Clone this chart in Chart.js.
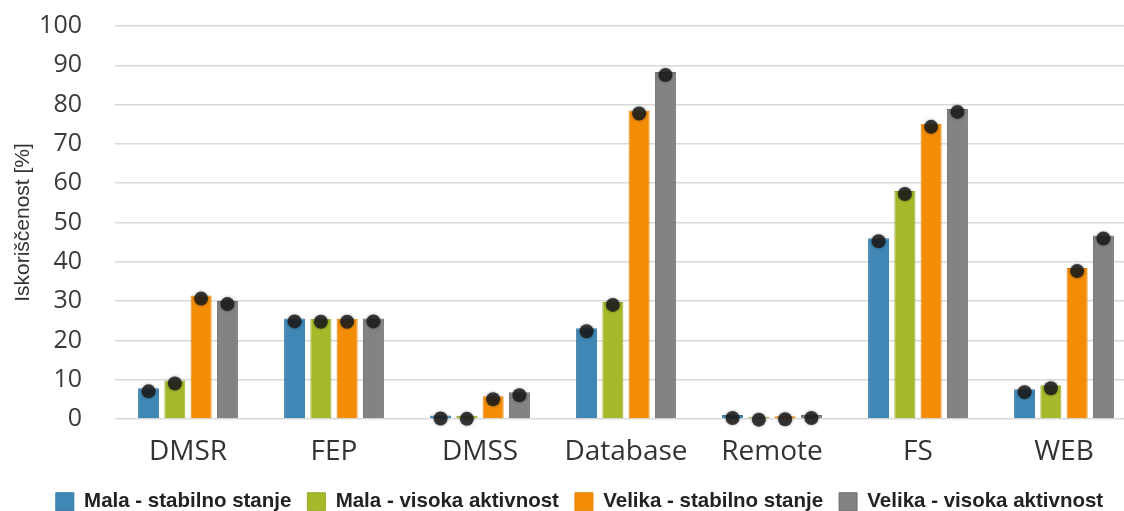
<!DOCTYPE html>
<html>
<head>
<meta charset="utf-8">
<script src="https://cdn.jsdelivr.net/npm/chart.js@4/dist/chart.umd.min.js"></script>
<style>
  html, body { margin: 0; padding: 0; background: #ffffff; overflow: hidden; width: 1124px; height: 511px; }
  #wrap { position: relative; width: 1154px; height: 511px; }
</style>
</head>
<body>
<div id="wrap"><canvas id="chart" width="1154" height="511"></canvas></div>
<script>
// Categories (servers / components)
const categories = ['DMSR', 'FEP', 'DMSS', 'Database', 'Remote', 'FS', 'WEB'];

// Series names
const seriesNames = [
  'Mala - stabilno stanje',
  'Mala - visoka aktivnost',
  'Velika - stabilno stanje',
  'Velika - visoka aktivnost'
];

// Utilisation values [%]
const malaStabilno   = [7.8, 25.6, 0.9, 23.1, 1.0, 46.0, 7.6];
const malaVisoka     = [9.8, 25.5, 0.8, 29.8, 0.6, 58.0, 8.6];
const velikaStabilno = [31.4, 25.5, 5.8, 78.5, 0.7, 75.1, 38.4];
const velikaVisoka   = [30.0, 25.6, 6.8, 88.3, 1.0, 78.9, 46.7];

// Y axis ticks
const yTicks = [0, 10, 20, 30, 40, 50, 60, 70, 80, 90, 100];

const fills   = ['#3f88b6', '#a6b92a', '#f38d05', '#838383'];
const borders = ['#3579a5', '#97a925', '#e58300', '#6e6e6e'];
const values  = [malaStabilno, malaVisoka, velikaStabilno, velikaVisoka];

// Dark round marker on top of every bar
const topMarkers = {
  id: 'topMarkers',
  afterDatasetsDraw(chart) {
    const ctx = chart.ctx;
    ctx.save();
    chart.data.datasets.forEach((ds, i) => {
      const meta = chart.getDatasetMeta(i);
      if (meta.hidden) return;
      meta.data.forEach(bar => {
        ctx.beginPath();
        ctx.arc(bar.x, bar.y + 3, 7, 0, Math.PI * 2);
        ctx.fillStyle = 'rgba(28,28,28,0.85)';
        ctx.shadowColor = 'rgba(0,0,0,0.45)';
        ctx.shadowBlur = 3;
        ctx.fill();
      });
    });
    ctx.restore();
  }
};

// Nudge the legend row a little to the right
const legendShift = {
  id: 'legendShift',
  beforeDraw(chart) {
    const lg = chart.legend;
    if (lg && !lg._shifted) {
      lg.left += 11;
      lg.right += 11;
      lg._shifted = true;
    }
  }
};

new Chart(document.getElementById('chart'), {
  type: 'bar',
  data: {
    labels: categories,
    datasets: seriesNames.map((name, i) => ({
      label: name,
      data: values[i],
      backgroundColor: fills[i],
      borderColor: borders[i],
      borderWidth: 1,
      categoryPercentage: 0.72,
      barPercentage: 0.8
    }))
  },
  options: {
    responsive: false,
    animation: false,
    layout: { padding: { top: 26, right: 17, left: 0, bottom: -11 } },
    plugins: {
      tooltip: { enabled: false },
      legend: {
        position: 'bottom',
        labels: {
          boxWidth: 18,
          boxHeight: 18,
          padding: 16,
          color: '#222222',
          font: { family: '"Liberation Sans", Arial, sans-serif', size: 20.5, weight: 'bold' }
        }
      }
    },
    scales: {
      x: {
        grid: { display: false, drawTicks: false },
        border: { display: false },
        afterFit(scale) { scale.height = 56.5; },
        ticks: {
          color: '#333333',
          padding: 16,
          font: { family: '"Open Sans", sans-serif', size: 28 }
        }
      },
      y: {
        min: 0,
        max: 100,
        afterBuildTicks(scale) { scale.ticks = yTicks.map(v => ({ value: v })); },
        afterFit(scale) {
          scale.width = 115;
          scale.paddingTop = 0;
          scale.paddingBottom = 0;
        },
        grid: { color: '#d9d9d9', lineWidth: 1.5, drawTicks: false },
        border: { display: false },
        ticks: {
          color: '#3a3a3a',
          padding: 33,
          font: { family: '"Open Sans", sans-serif', size: 25 }
        },
        title: {
          display: true,
          text: 'Iskoriščenost [%]',
          color: '#333333',
          padding: { top: 10.5, bottom: 0 },
          font: { family: '"Liberation Sans", Arial, sans-serif', size: 21 }
        }
      }
    }
  },
  plugins: [topMarkers, legendShift]
});
</script>
</body>
</html>
